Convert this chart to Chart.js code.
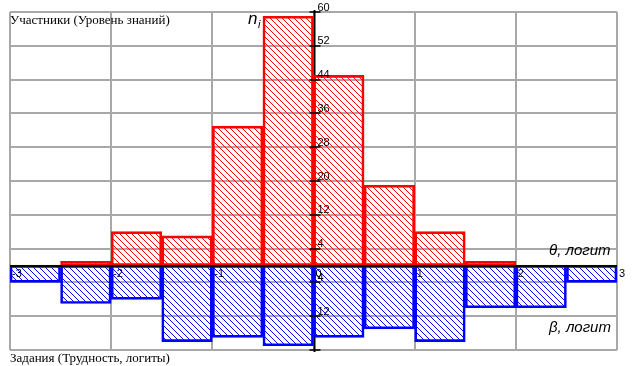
<!DOCTYPE html>
<html>
<head>
<meta charset="utf-8">
<script src="https://cdn.jsdelivr.net/npm/chart.js@4/dist/chart.umd.min.js"></script>
<style>
  body { margin: 0; background: #fff; }
  #wrap { width: 632px; height: 366px; position: relative; }
</style>
</head>
<body>
<div id="wrap"><canvas id="hist"></canvas></div>
<script>
// --- data ---
const binCenters = [-2.75, -2.25, -1.75, -1.25, -0.75, -0.25, 0.25, 0.75, 1.25, 1.75, 2.25, 2.75];
const participants = [0, 1, 8, 7, 33, 59, 45, 19, 8, 1, 0, 0];
const tasks = [-4, -9, -8, -18, -17, -19, -17, -15, -18, -10, -10, -4];
const xTickValues = [-3, -2, -1, 0, 1, 2, 3];
const xTickLabels = ['-3', '-2', '-1', '0', '1', '2', '3'];
const yTickValues = [60, 52, 44, 36, 28, 20, 12, 4, -4, -12];
const yTickLabels = ['60', '52', '44', '36', '28', '20', '12', '4', '4', '12'];

// diagonal hatch "\\\"
function hatch(color) {
    const s = 6;
    const c = document.createElement('canvas');
    c.width = s; c.height = s;
    const g = c.getContext('2d');
    g.strokeStyle = color;
    g.lineWidth = 1;
    g.beginPath();
    [-s, 0, s].forEach(k => { g.moveTo(k, 0); g.lineTo(k + s, s); });
    g.stroke();
    return g.createPattern(c, 'repeat');
}

const axes = {
    id: 'axes',
    beforeDatasetsDraw(chart) {
        const { ctx, chartArea: a, scales: { x } } = chart;
        const x0 = Math.round(x.getPixelForValue(0)) + 0.5;
        ctx.save();
        ctx.strokeStyle = '#000';
        ctx.lineWidth = 2;
        ctx.beginPath();
        ctx.moveTo(x0, a.top - 2);
        ctx.lineTo(x0, a.bottom + 2);
        ctx.stroke();
        ctx.restore();
    },
    afterDatasetsDraw(chart) {
        const { ctx, chartArea: a, scales: { x, y } } = chart;
        const x0 = Math.round(x.getPixelForValue(0)) + 0.5;
        const y0 = Math.round(y.getPixelForValue(0));
        ctx.save();
        ctx.strokeStyle = '#000';
        ctx.lineWidth = 2;
        ctx.beginPath();
        ctx.moveTo(a.left, y0);
        ctx.lineTo(a.right, y0);
        ctx.stroke();

        // y ticks + labels along the centre axis
        ctx.font = '11px "Liberation Sans", Arial, sans-serif';
        ctx.fillStyle = '#000';
        ctx.textAlign = 'left';
        ctx.textBaseline = 'bottom';
        ctx.lineWidth = 1.5;
        yTickValues.concat([-20]).forEach(v => {
            const py = Math.round(y.getPixelForValue(v));
            ctx.beginPath();
            ctx.moveTo(x0 - 5, py);
            ctx.lineTo(x0 + 6, py);
            ctx.stroke();
        });
        yTickValues.forEach((v, i) => {
            ctx.fillText(yTickLabels[i], x0 + 3, y.getPixelForValue(v) + 1);
        });

        // x labels just under the zero line
        ctx.textBaseline = 'top';
        xTickValues.forEach((v, i) => {
            ctx.fillText(xTickLabels[i], x.getPixelForValue(v) + 2, y0 + 2);
        });

        // captions
        ctx.font = '13px "Liberation Serif", "Times New Roman", serif';
        ctx.textBaseline = 'alphabetic';
        ctx.fillText('Участники (Уровень знаний)', 10, 24);
        ctx.fillText('Задания (Трудность, логиты)', 10, 362);

        ctx.font = 'italic 17px "Liberation Sans", Arial, sans-serif';
        ctx.fillText('n', 248, 24);
        ctx.font = 'italic 11px "Liberation Sans", Arial, sans-serif';
        ctx.fillText('i', 258, 28);
        ctx.font = 'italic 15px "Liberation Sans", Arial, sans-serif';
        ctx.fillText('θ, логит', 549, 255);
        ctx.fillText('β, логит', 549, 332);
        ctx.restore();
    }
};

const ctx = document.getElementById('hist').getContext('2d');

new Chart(ctx, {
    type: 'bar',
    data: {
        datasets: [{
            label: 'Участники',
            data: binCenters.map((c, i) => ({ x: c, y: participants[i] })),
            backgroundColor: hatch('#ff0000'),
            borderColor: '#ff0000',
            borderWidth: 2,
            borderSkipped: false
        }, {
            label: 'Задания',
            data: binCenters.map((c, i) => ({ x: c, y: tasks[i] })),
            backgroundColor: hatch('#0000ff'),
            borderColor: '#0000ff',
            borderWidth: 2,
            borderSkipped: false
        }]
    },
    options: {
        responsive: true,
        maintainAspectRatio: false,
        animation: false,
        barPercentage: 1,
        categoryPercentage: 1,
        layout: { padding: { left: 10, right: 15, top: 12, bottom: 16 } },
        plugins: {
            legend: { display: false },
            tooltip: { enabled: false }
        },
        scales: {
            x: {
                type: 'linear', min: -3, max: 3, stacked: true, offset: false,
                ticks: { display: false, stepSize: 1 },
                border: { display: false },
                grid: { color: '#a8a8a8', lineWidth: 2, drawTicks: false, offset: false }
            },
            y: {
                min: -20, max: 60, stacked: true,
                ticks: { display: false, stepSize: 8 },
                border: { display: false },
                grid: { color: '#a8a8a8', lineWidth: 2, drawTicks: false }
            }
        }
    },
    plugins: [axes]
});
</script>
</body>
</html>
